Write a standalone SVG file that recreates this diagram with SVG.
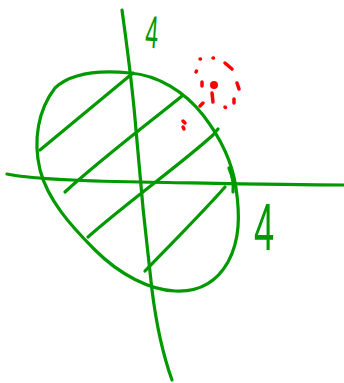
<svg xmlns="http://www.w3.org/2000/svg" width="344" height="383" viewBox="0 0 344 383">
<style>
.g{fill:none;stroke:#009a00;stroke-width:3.2;stroke-linecap:round;stroke-linejoin:round}
.r{fill:none;stroke:#ff0000;stroke-width:3.5;stroke-linecap:round}
.lbl{font-family:"Liberation Sans",Arial,sans-serif;fill:#009a00;text-anchor:middle}
</style>
<rect width="344" height="383" fill="#ffffff"/>
<g id="axes">
<path class="g" d="M122,10 C126,40 132,80 136,130 C140,180 146,240 152,290 C157,330 163,355 172,380"/>
<path class="g" d="M7,174 C30,179 80,181 140,182 C200,183 280,185 344,185"/>
</g>
<g id="ellipse">
<path class="g" d="M130,73 C158,75 185,92 203,115 C220,137 232,160 236,188 C240,215 240,240 228,262 C215,285 195,292 175,291 C150,290 120,275 95,250 C70,225 48,200 40,170 C33,140 38,110 55,88 C72,72 100,70 130,73"/>
<path class="g" d="M229,168 C232,175 234,183 233,192"/>
</g>
<g id="hatching">
<path class="g" d="M40,150 C70,125 100,100 133,73"/>
<path class="g" d="M65,192 C100,160 150,122 182,96"/>
<path class="g" d="M88,237 C130,200 180,165 213,135 L218,129"/>
<path class="g" d="M145,271 C175,240 205,210 225,187"/>
</g>
<g id="labels">
<text class="lbl" font-size="46" transform="translate(151,48) rotate(4) scale(0.5,1)">4</text>
<text class="lbl" font-size="66" transform="translate(264,250) scale(0.55,1)">4</text>
</g>
<g id="point">
<circle cx="214" cy="85" r="4" fill="#ff0000"/>
<path class="r" d="M200,59 L200.5,59 M213,58 L213.5,58 M225,63 L232,69 M196,72 L196.5,71 M202,82 L202,86 M212,93 L213,102 M237,83 L239,89 M234,99 L234,103 M225,107 L225.5,107.5 M203,103 L200,106 M183,121 L185,123 M183,127 L184,129"/>
</g>
</svg>
